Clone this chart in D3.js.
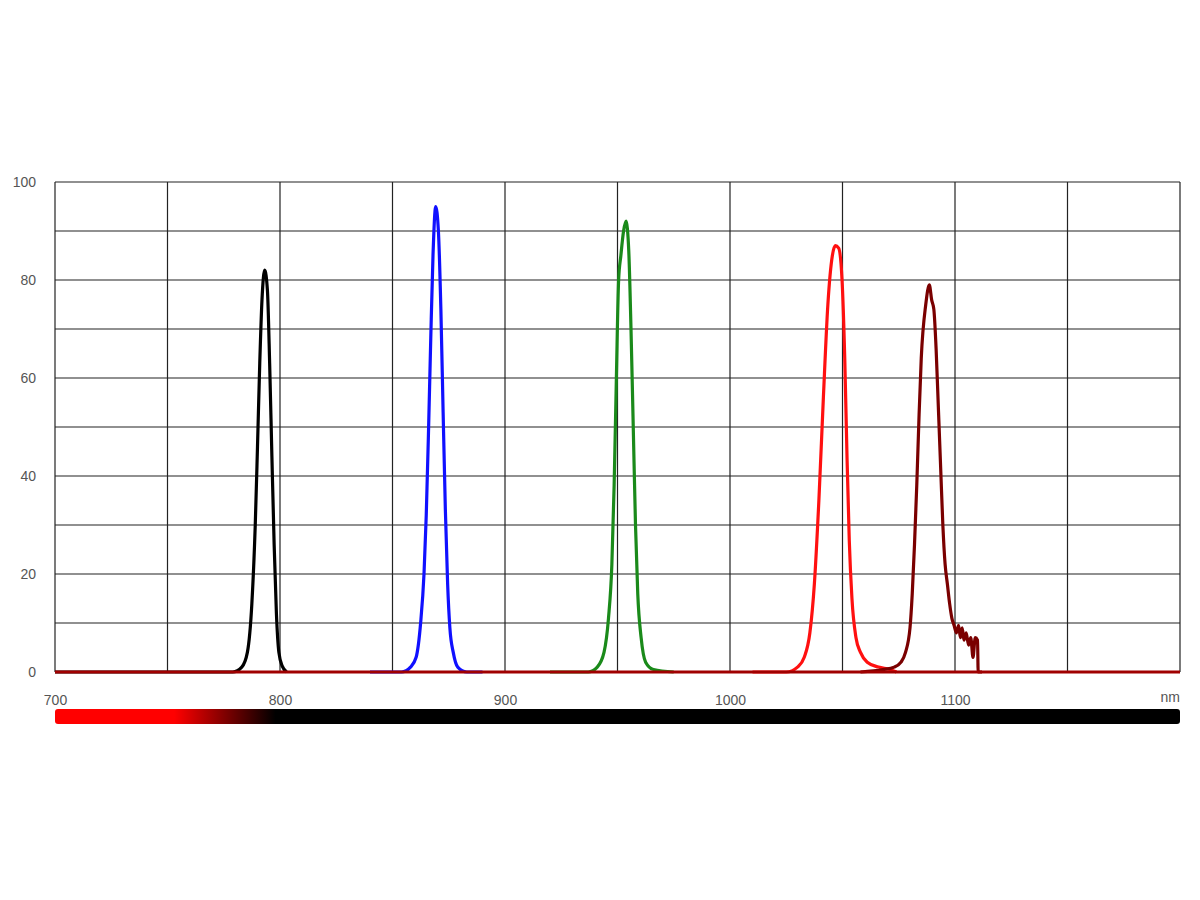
<!DOCTYPE html>
<html><head><meta charset="utf-8">
<script src="https://cdn.jsdelivr.net/npm/d3@7"></script>
<style>body{margin:0;background:#fff}</style></head>
<body><svg id="c" width="1200" height="900"></svg>
<script>
const xTicks=[700,800,900,1000,1100];
const yTicks=[0,20,40,60,80,100];
const blackSeries=[[700,0],[779,0],[783,1],[785.5,4],[787.5,14],[789,30],[790,46],[791,63],[792,76],[793.2,82],[794.4,78],[795.4,63],[796.4,44],[797.4,26],[798.4,12],[799.5,4],[801,1.2],[803,0]];
const blueSeries=[[840,0],[854,0],[858,1],[860.5,3],[862.5,10],[864,20],[865,32],[866,49],[867,68],[868,85],[869.2,95],[870.4,90],[871.5,74],[872.5,53],[873.5,33],[874.5,18],[875.5,9],[877,4],[879,1],[883,0],[890,0]];
const greenSeries=[[920,0],[937,0],[941,1],[944,4],[946,11],[947.5,22],[948.5,38],[949.5,60],[950.5,80],[951.5,85],[952.7,90],[953.8,92],[955,86],[956,70],[957,50],[958,30],[959,16],[960.5,7],[962.5,2],[966,0.5],[975,0]];
const redSeries=[[1010,0],[1025,0],[1030,1],[1033,3],[1035.5,8],[1037.5,18],[1039.5,35],[1041.5,56],[1043.5,75],[1045.5,85],[1046.8,87],[1048.3,86.5],[1049.8,80],[1051,64],[1052,44],[1053,27],[1054.2,15],[1056,7],[1058,4],[1061,2],[1066,1],[1071,0.5],[1074,0]];
const darkRedSeries=[[1058,0],[1068,0.5],[1073,1],[1076,2],[1078,4],[1080,9],[1081,16],[1082,26],[1083,38],[1084,52],[1085,64],[1087,75],[1088.6,79],[1089.6,76],[1090.6,74],[1091.6,66],[1092.6,54],[1093.6,42],[1094.6,30],[1095.6,22],[1096.6,18],[1097.6,14],[1098.6,11],[1099.6,9.5],[1100.6,8],[1101.6,9.5],[1102.4,7],[1103.2,9],[1104,6.5],[1105,8],[1106,5.5],[1107,7],[1108,3],[1109,7],[1110,6.5],[1110.3,0],[1112,0]];
const baseSeries=[[700,0],[1200,0]];

const svg=d3.select("#c");
const x=d3.scaleLinear().domain([700,1200]).range([55,1180]);
const y=d3.scaleLinear().domain([0,100]).range([672,182]);
const g=svg.append("g");
g.selectAll(".vg").data(d3.range(700,1201,50)).enter().append("line")
 .attr("x1",d=>x(d)).attr("x2",d=>x(d)).attr("y1",y(0)).attr("y2",y(100)).attr("stroke","#222").attr("stroke-width",1.2);
g.selectAll(".hg").data(d3.range(0,101,10)).enter().append("line")
 .attr("y1",d=>y(d)).attr("y2",d=>y(d)).attr("x1",x(700)).attr("x2",x(1200)).attr("stroke","#222").attr("stroke-width",1.2);
const font="Arial, Liberation Sans";
const xa=svg.append("g").attr("transform",`translate(0,${y(0)+30})`).call(d3.axisBottom(x).tickValues(xTicks).tickSize(0).tickFormat(d3.format("d")));
xa.select(".domain").remove();
xa.selectAll("text").attr("fill","#555").attr("font-size",14).attr("font-family",font).attr("dy","0");
const ya=svg.append("g").attr("transform",`translate(${x(700)-19},0)`).call(d3.axisLeft(y).tickValues(yTicks).tickSize(0));
ya.select(".domain").remove();
ya.selectAll("text").attr("fill","#555").attr("font-size",14).attr("font-family",font).attr("x",0);
svg.append("text").attr("x",1180).attr("y",y(0)+30).attr("text-anchor","end").attr("fill","#555").attr("font-size",14).attr("font-family",font).text("nm");
const grad=svg.append("defs").append("linearGradient").attr("id","gr").attr("x1","0").attr("x2","1");
grad.append("stop").attr("offset",0).attr("stop-color","#ff0000");
grad.append("stop").attr("offset",(753-700)/500).attr("stop-color","#ff0000");
grad.append("stop").attr("offset",(798-700)/500).attr("stop-color","#000");
grad.append("stop").attr("offset",1).attr("stop-color","#000");
svg.append("rect").attr("x",x(700)).attr("y",709).attr("width",x(1200)-x(700)).attr("height",15).attr("rx",3).attr("fill","url(#gr)");
const line=d3.line().x(d=>x(d[0])).y(d=>y(d[1])).curve(d3.curveMonotoneX);
[[greenSeries,"#1a8a1a"],[blueSeries,"#1010ff"],[blackSeries,"#000"],[redSeries,"#ff1010"],[darkRedSeries,"#7a0000"],[baseSeries,"#a00000"]].forEach(([d,c])=>{
 svg.append("path").datum(d).attr("d",line).attr("fill","none").attr("stroke",c).attr("stroke-width",3.2).attr("stroke-linejoin","round");
});
</script></body></html>
